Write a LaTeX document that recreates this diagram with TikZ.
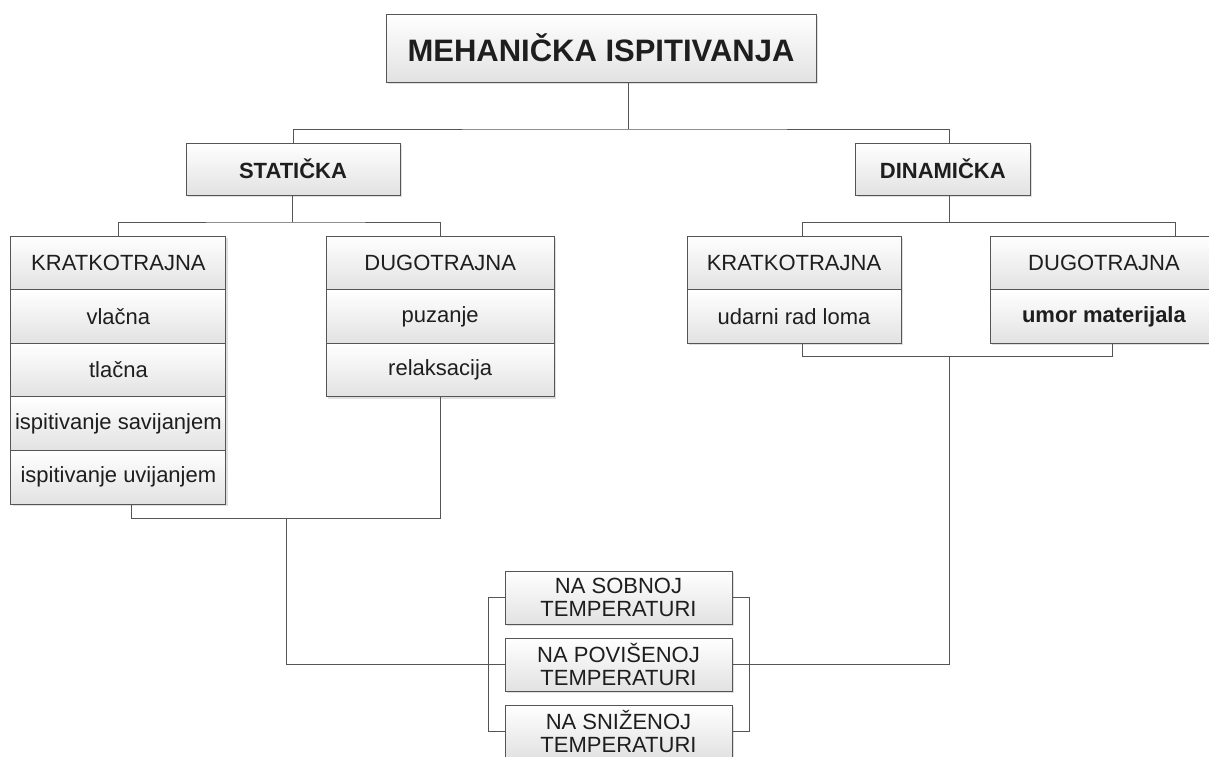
\documentclass[tikz,border=0pt]{standalone}
\usepackage{fontspec}
\setmainfont{Liberation Sans}
\usepackage{xcolor}
\usetikzlibrary{calc,shadows}

\definecolor{linegray}{HTML}{555555}
\definecolor{boxgray}{HTML}{E2E2E2}
\definecolor{textgray}{HTML}{1E1E1E}

\tikzset{
  box/.style={draw=linegray, line width=0.9pt, top color=white, bottom color=boxgray,
    text=textgray, inner sep=0pt, align=center,
    drop shadow={shadow xshift=2pt, shadow yshift=-2pt, opacity=0.25, fill=gray}},
  cell/.style={box, minimum height=53.6pt, font=\fontsize{22}{24}\selectfont},
  tempbox/.style={cell, minimum width=227pt, minimum height=53pt, font=\fontsize{22}{23.5}\selectfont},
  head/.style={box, minimum height=52pt, font=\fontsize{22}{24}\selectfont\bfseries},
  conn/.style={draw=linegray, line width=0.9pt},
}

\begin{document}
\begin{tikzpicture}[x=1pt,y=-1pt]
    \useasboundingbox (0,0) rectangle (1209,756);
    \fill[white] (0,0) rectangle (1209,756);
    % top levels
    \node[box, minimum width=430pt, minimum height=68pt,
      font=\fontsize{31}{36}\selectfont\bfseries] (title) at (601,48) {MEHANIČKA ISPITIVANJA};
    \node[head, minimum width=214pt] (stat) at (293,169) {STATIČKA};
    \node[head, minimum width=174.5pt] (dyn) at (942.8,169) {DINAMIČKA};
    % columns
    \foreach \t [count=\i] in {KRATKOTRAJNA, vlačna, tlačna, ispitivanje savijanjem, ispitivanje uvijanjem}
      \node[cell, minimum width=215pt] (sk\i) at (118.4,{209.2+53.6*\i}) {\t};
    \foreach \t [count=\i] in {DUGOTRAJNA, puzanje, relaksacija}
      \node[cell, minimum width=227.5pt] (sd\i) at (440.2,{209.2+53.6*\i}) {\t};
    \foreach \t [count=\i] in {KRATKOTRAJNA, udarni rad loma}
      \node[cell, minimum width=214pt] (dk\i) at (794,{209.2+53.6*\i}) {\t};
    \foreach \t [count=\i] in {DUGOTRAJNA, {\textbf{umor materijala}}}
      \node[cell, minimum width=228pt] (dd\i) at (1104,{209.2+53.6*\i}) {\t};
    % temperatures
    \foreach \t [count=\i] in {{NA SOBNOJ\\TEMPERATURI}, {NA POVIŠENOJ\\TEMPERATURI}, {NA SNIŽENOJ\\TEMPERATURI}}
      \node[tempbox] (tp\i) at (618.5,{530.5+67*\i}) {\t};
    % connectors
    \coordinate (tbus) at (628,129);
    \coordinate (dbus) at (949.5,129);
    \draw[conn] (title.south -| tbus) -- (tbus);
    \draw[conn] (stat.north) |- (tbus) -- (dbus) -- (dbus |- dyn.north);
    \coordinate (sbus) at (292,222);
    \draw[conn] (stat.south -| sbus) -- (sbus);
    \draw[conn] (sk1.north) |- (sbus) -| (sd1.north);
    \coordinate (dsub) at (949.5,222);
    \coordinate (dk) at (802,222);
    \coordinate (dd) at (1175,222);
    \draw[conn] (dyn.south -| dsub) -- (dsub);
    \draw[conn] (dk |- dk1.north) -- (dk) -- (dd) -- (dd |- dd1.north);
    \coordinate (lk) at (131,518);
    \coordinate (lstem) at (286,518);
    \draw[conn] (sk5.south -| lk) -- (lk) -| (sd3.south);
    \draw[conn] (lstem) |- (tp2.west);
    \coordinate (rk) at (802,356);
    \coordinate (rd) at (1112,356);
    \coordinate (rstem) at (949.5,356);
    \draw[conn] (dk2.south -| rk) -- (rk) -- (rd) -- (rd |- dd2.south);
    \draw[conn] (rstem) |- (tp2.east);
    \draw[conn] (tp1.west) -- ++(-16,0) |- (tp3.west);
    \draw[conn] (tp1.east) -- ++(16.5,0) |- (tp3.east);
\end{tikzpicture}
\end{document}
